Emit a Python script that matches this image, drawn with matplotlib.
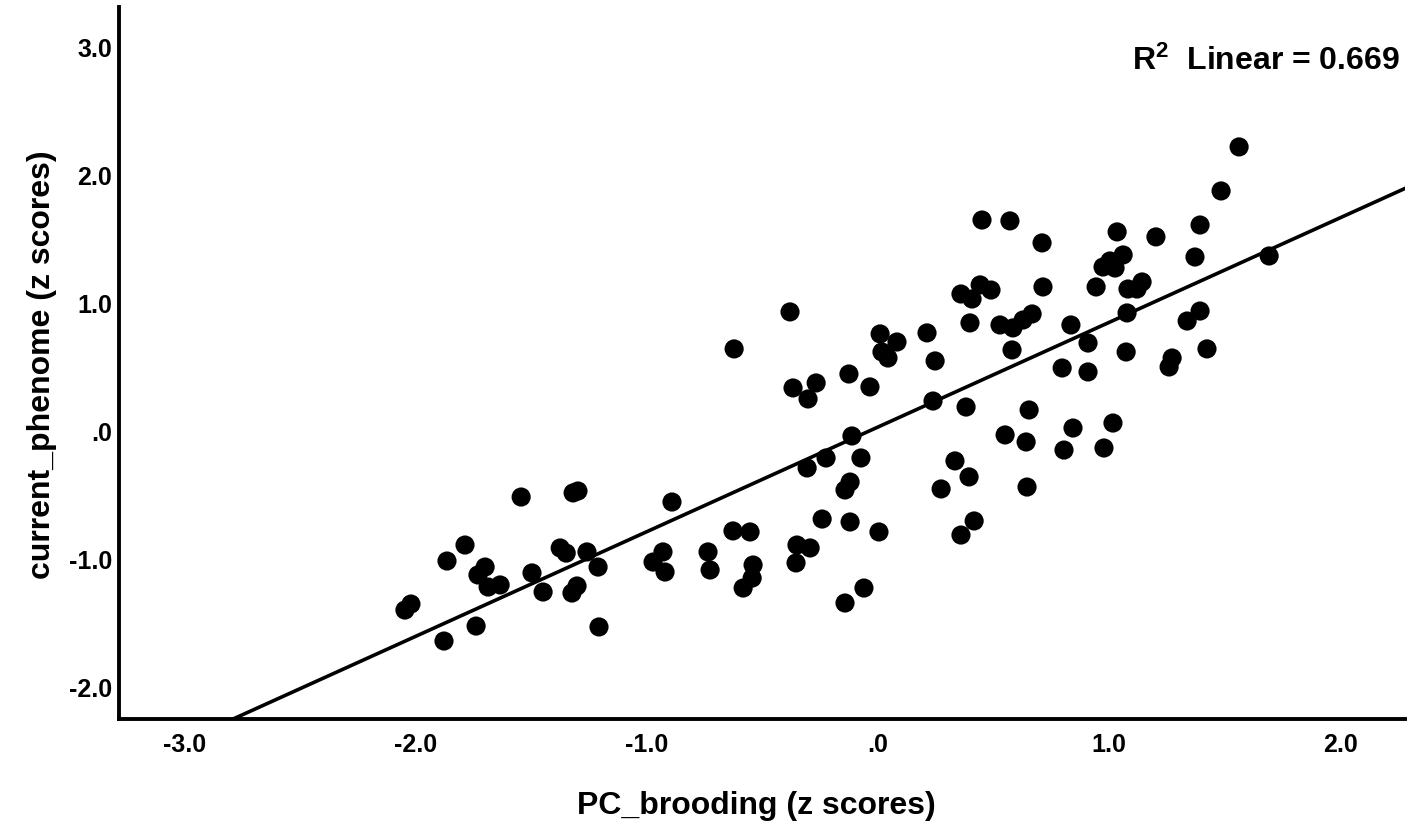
"""
Scatter of current_phenome vs PC_brooding (z scores) with a linear fit line.
"""

import numpy as np
import matplotlib
matplotlib.use("Agg")
import matplotlib.pyplot as plt

plt.rcParams['font.family'] = ['Liberation Sans', 'DejaVu Sans']
plt.rcParams['font.weight'] = 'bold'
plt.rcParams['mathtext.fontset'] = 'custom'
plt.rcParams['mathtext.rm'] = 'Liberation Sans:bold'
plt.rcParams['mathtext.bf'] = 'Liberation Sans:bold'

# values
pc_brooding = [
    -2.048, -2.022, -1.866, -1.879, -1.788, -1.740, -1.701, -1.732, -1.688, -1.636,
    -1.545, -1.498, -1.450, -1.376, -1.350, -1.320, -1.299, -1.260, -1.303, -1.325,
    -1.212, -1.208,
    -0.381, -0.623, 0.009, 0.082, 0.017, 0.043, -0.126, -0.035, -0.368, -0.268,
    -0.303, -0.113, -0.074, -0.225, -0.307, -0.121, -0.143, -0.242, -0.121, 0.004,
    -0.351, -0.294, -0.355, -0.628, -0.554, -0.736, -0.727, -0.541, -0.545, -0.584,
    -0.931, -0.974, -0.922, -0.892, -0.143, -0.061,
    0.450, 0.571, 0.710, 1.035, 1.203, 1.394, 1.372, 1.061, 1.004, 0.974,
    1.026, 0.944, 0.714, 1.082, 1.143, 1.121, 0.359, 0.442, 0.407, 0.489,
    0.398, 0.212, 0.247, 0.528, 0.584, 0.628, 0.667, 0.580, 0.835, 0.909,
    1.078, 1.074, 0.797, 0.909, 1.394, 1.338, 1.424, 1.273, 1.260, 0.238,
    0.381, 0.654, 0.550, 0.641, 0.844, 0.805, 1.017, 0.978, 0.333, 0.394,
    0.273, 0.645, 0.416, 0.359, 1.563, 1.485, 1.693,
]
current_phenome = [
    -1.395, -1.348, -1.012, -1.637, -0.887, -1.520, -1.059, -1.121, -1.215, -1.199,
    -0.512, -1.105, -1.254, -0.910, -0.950, -0.480, -0.465, -0.941, -1.207, -1.262,
    -1.059, -1.527,
    0.934, 0.645, 0.762, 0.699, 0.621, 0.574, 0.449, 0.348, 0.340, 0.379,
    0.254, -0.035, -0.207, -0.207, -0.285, -0.395, -0.457, -0.684, -0.707, -0.785,
    -0.887, -0.910, -1.027, -0.777, -0.785, -0.941, -1.082, -1.043, -1.145, -1.223,
    -0.941, -1.020, -1.098, -0.551, -1.340, -1.223,
    1.652, 1.645, 1.473, 1.559, 1.520, 1.613, 1.363, 1.379, 1.332, 1.285,
    1.277, 1.129, 1.129, 1.113, 1.168, 1.113, 1.074, 1.145, 1.035, 1.105,
    0.848, 0.770, 0.551, 0.832, 0.809, 0.871, 0.918, 0.637, 0.832, 0.691,
    0.926, 0.621, 0.496, 0.465, 0.941, 0.863, 0.645, 0.574, 0.504, 0.238,
    0.191, 0.168, -0.027, -0.082, 0.027, -0.145, 0.066, -0.129, -0.230, -0.355,
    -0.449, -0.434, -0.699, -0.809, 2.223, 1.879, 1.371,
]

# fit line as shown in the chart
fit_slope = 0.817
fit_intercept = 0.035
r2_text = r'$\mathbf{R^2}$  Linear = 0.669'

x_ticks = [-3.0, -2.0, -1.0, 0.0, 1.0, 2.0]
x_tick_labels = ['-3.0', '-2.0', '-1.0', '.0', '1.0', '2.0']
y_ticks = [-2.0, -1.0, 0.0, 1.0, 2.0, 3.0]
y_tick_labels = ['-2.0', '-1.0', '.0', '1.0', '2.0', '3.0']
x_lim = (-3.286, 2.281)
y_lim = (-2.246, 3.316)

fig = plt.figure(figsize=(14.18, 8.34), dpi=100)
ax = fig.add_axes([0.0839, 0.1379, 0.9069, 0.8537])

ax.scatter(pc_brooding, current_phenome, s=190, color='black', edgecolors='none', zorder=2)

xs = np.array(x_lim)
ax.plot(xs, fit_slope * xs + fit_intercept, color='black', lw=2.6, zorder=3)

ax.set_xlim(*x_lim)
ax.set_ylim(*y_lim)
ax.set_xticks(x_ticks)
ax.set_xticklabels(x_tick_labels)
ax.set_yticks(y_ticks)
ax.set_yticklabels(y_tick_labels)
ax.tick_params(axis='x', length=0, pad=10, labelsize=18)
ax.tick_params(axis='y', length=0, pad=5, labelsize=18)

for side in ('top', 'right'):
    ax.spines[side].set_visible(False)
for side in ('left', 'bottom'):
    ax.spines[side].set_linewidth(2.8)

ax.set_xlabel('PC_brooding (z scores)', fontsize=23, fontweight='bold', va='center')
ax.xaxis.set_label_coords(0.496, -0.122)
ax.set_ylabel('current_phenome (z scores)', fontsize=23, fontweight='bold', va='center')
ax.yaxis.set_label_coords(-0.060, 0.497)

ax.text(0.996, 0.923, r2_text, transform=ax.transAxes, ha='right', va='center',
        fontsize=23, fontweight='bold')

fig.savefig('out.png', dpi=100)
plt.close(fig)
